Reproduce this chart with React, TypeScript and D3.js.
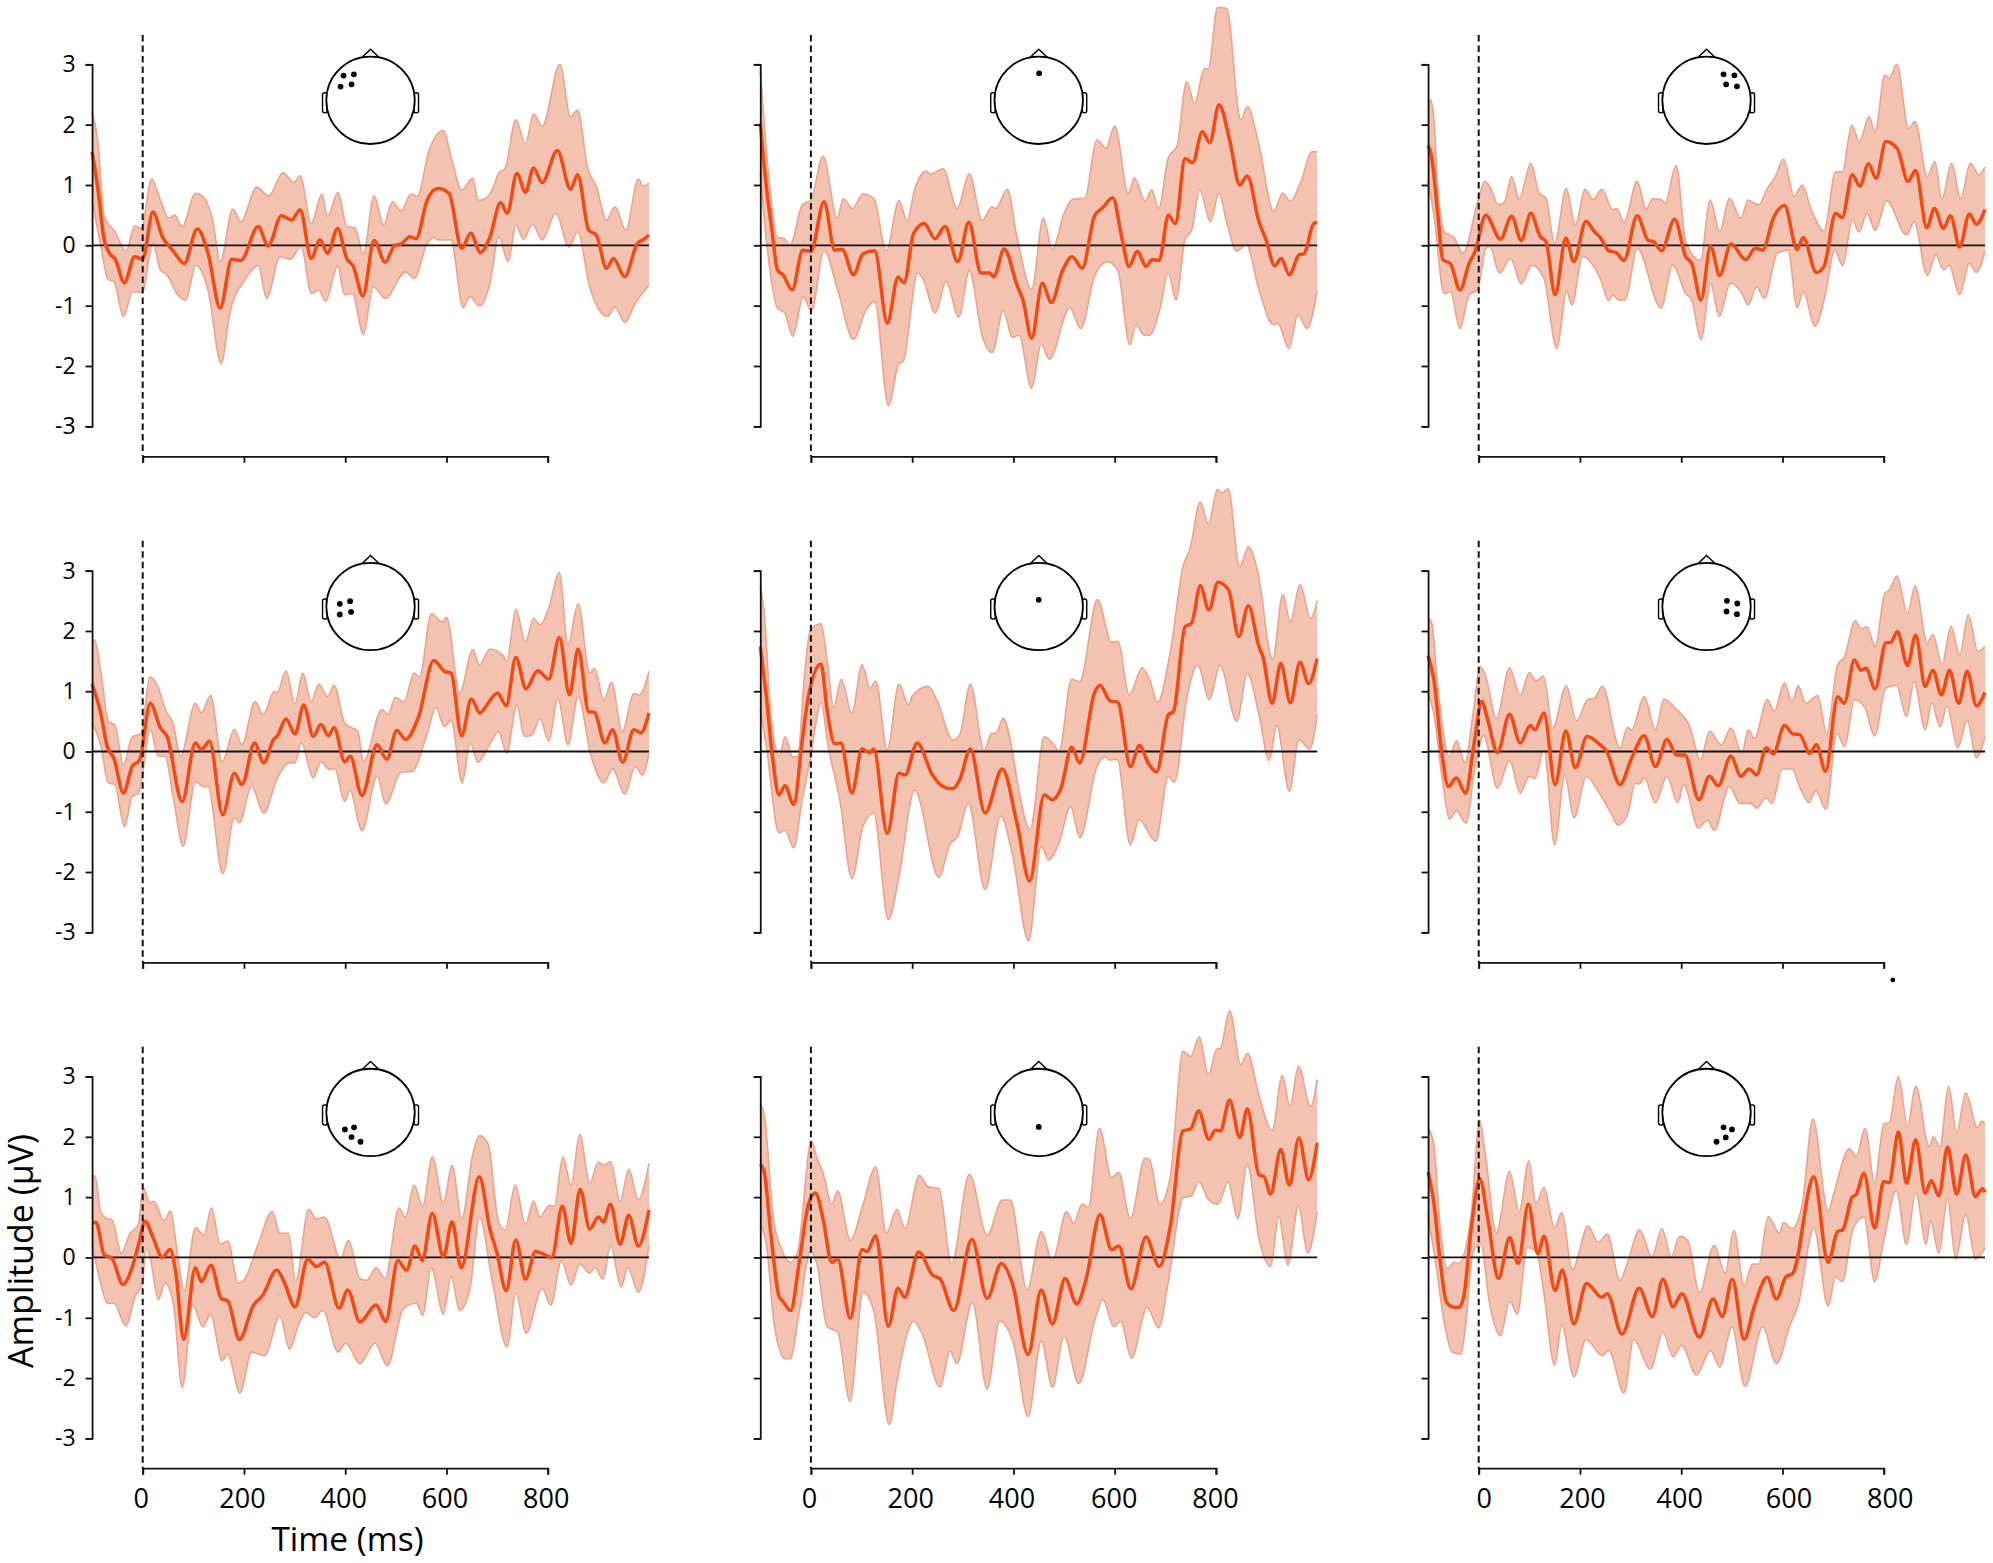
import { useEffect, useRef } from 'react';
import * as d3 from 'd3';

type Pt = [number, number];

const xTicks = [0, 200, 400, 600, 800];
const yTicks = [-3, -2, -1, 0, 1, 2, 3];

// top row
const p1Mean: Pt[] = [[-100,1.55],[-89,.97],[-76,.09],[-63,-.16],[-55,-.22],[-36,-.62],[-16,-.19],[0,-.23],[20,.55],[39,.14],[61,-.1],[82,-.3],[108,.27],[129,-.13],[153,-1.04],[176,-.23],[194,-.25],[228,.31],[248,-.01],[274,.49],[294,.42],[311,.59],[333,-.22],[350,.09],[365,-.13],[385,.28],[403,-.22],[416,-.35],[435,-.84],[457,.08],[479,-.28],[498,0],[510,.02],[528,.14],[540,.11],[562,.75],[583,.94],[605,.86],[630,-.05],[648,.2],[667,-.12],[686,.14],[707,.71],[720,.53],[739,1.19],[756,.88],[772,1.28],[789,1.04],[819,1.57],[845,.93],[859,1.17],[881,.25],[896,.17],[916,-.38],[930,-.22],[952,-.52],[977,.03],[990,.1],[1000,.17]];
const p1Upper: Pt[] = [[-100,2.22],[-89,1.75],[-76,.48],[-55,.23],[-33,-.1],[-16,.32],[-3,.28],[18,1.1],[35,.75],[52,.45],[63,.5],[78,.31],[104,.86],[116,.83],[138,.42],[153,-.27],[178,.6],[194,.39],[225,.96],[249,.82],[277,1.2],[299,1.04],[311,1.15],[333,.36],[354,.85],[365,.48],[386,.88],[403,.31],[419,.29],[436,-.14],[457,.82],[476,.34],[493,.72],[510,.57],[530,.85],[542,.81],[566,1.58],[594,1.9],[609,1.47],[630,.92],[652,1.11],[663,.75],[673,.76],[690,.92],[703,1.19],[716,1.28],[737,2.08],[756,1.68],[772,2.18],[789,1.97],[824,3],[845,2.13],[859,2.24],[879,1.28],[896,.97],[916,.42],[933,.64],[954,.25],[979,1.1],[989,.98],[1000,1.03]];
const p1Lower: Pt[] = [[-100,.75],[-85,.09],[-68,-.57],[-57,-.6],[-38,-1.18],[-20,-.77],[-1,-.78],[20,.03],[35,-.41],[48,-.49],[69,-.82],[85,-.91],[105,-.33],[129,-.74],[155,-1.96],[172,-1.13],[202,-.57],[228,-.34],[245,-.88],[271,-.19],[292,-.23],[313,-.02],[333,-.8],[348,-.74],[361,-.93],[385,-.35],[399,-.82],[414,-.8],[436,-1.48],[455,-.69],[479,-.88],[519,-.44],[536,-.55],[562,.03],[575,.13],[583,.09],[609,.09],[633,-1.04],[646,-.85],[665,-1.01],[686,-.63],[703,.14],[722,-.27],[737,.34],[752,.1],[770,.35],[789,.09],[816,.53],[842,-.03],[859,.22],[883,-.69],[918,-1.18],[933,-1.02],[952,-1.28],[973,-.96],[1000,-.66]];

const p2Mean: Pt[] = [[-100,2.02],[-88,.97],[-77,.25],[-66,-.41],[-55,-.49],[-37,-.74],[-16,-.08],[0,-.1],[26,.72],[47,-.08],[62,-.07],[84,-.49],[103,-.14],[126,-.09],[151,-1.29],[172,-.53],[184,-.62],[203,.2],[224,.36],[245,.11],[265,.31],[290,-.27],[312,.38],[336,-.46],[353,-.46],[361,-.52],[382,-.06],[407,-.66],[419,-.91],[436,-1.54],[457,-.63],[475,-.95],[496,-.44],[516,-.19],[536,-.38],[560,.48],[577,.63],[596,.79],[615,.09],[628,-.35],[645,-.1],[662,-.35],[674,-.24],[688,-.25],[706,.5],[720,.36],[739,1.44],[754,1.37],[773,1.88],[788,1.7],[806,2.33],[827,1.75],[847,1],[862,1.15],[885,.39],[899,.09],[916,-.34],[929,-.22],[945,-.49],[964,-.16],[974,-.14],[993,.36],[1000,.38]];
const p2Upper: Pt[] = [[-100,2.91],[-80,.86],[-66,.13],[-55,.12],[-41,.01],[-17,.67],[0,.75],[24,1.48],[52,.45],[64,.77],[82,.61],[103,.85],[124,.78],[149,-.09],[174,.74],[190,.41],[205,.93],[228,1.23],[236,1.18],[261,1.27],[289,.61],[313,1.19],[338,.41],[358,.64],[365,.61],[388,.93],[407,.14],[436,-.73],[459,.45],[477,-.07],[500,.53],[516,.76],[541,.78],[565,1.75],[583,1.61],[600,1.98],[627,.86],[639,1.12],[660,.73],[673,.92],[687,.61],[706,1.46],[723,1.64],[742,2.71],[758,2.35],[777,2.93],[785,2.92],[803,3.94],[821,3.93],[849,2.08],[862,2.3],[885,1.66],[914,.56],[932,.86],[947,.73],[968,1.06],[990,1.55],[1000,1.55]];
const p2Lower: Pt[] = [[-100,1.19],[-88,.09],[-66,-1.04],[-51,-1.13],[-36,-1.51],[-15,-.85],[1,-1.09],[26,-.09],[53,-.74],[84,-1.56],[109,-1.07],[126,-.93],[153,-2.66],[174,-1.96],[182,-1.93],[211,-.46],[222,-.57],[246,-1.12],[267,-.6],[292,-1.19],[313,-.42],[338,-1.49],[358,-1.78],[380,-1.08],[398,-1.53],[411,-1.49],[436,-2.37],[455,-1.64],[471,-1.89],[511,-1.04],[533,-1.38],[560,-.52],[585,-.27],[606,-.41],[630,-1.65],[642,-1.32],[659,-1.49],[669,-1.49],[689,-1.07],[706,-.46],[721,-.91],[739,.09],[752,.25],[768,.92],[789,.39],[806,.86],[822,.36],[841,-.1],[860,.01],[885,-.74],[914,-1.32],[922,-1.29],[944,-1.71],[962,-1.15],[980,-1.38],[1000,-.75]];

const p3Mean: Pt[] = [[-100,1.66],[-93,1.47],[-81,.53],[-71,-.24],[-56,-.3],[-37,-.74],[-19,-.3],[-7,-.1],[14,.5],[43,.1],[65,.48],[84,.08],[103,.53],[121,.15],[133,.06],[151,-.82],[172,.12],[188,-.27],[212,.4],[228,.23],[240,.13],[257,-.09],[271,-.12],[287,-.25],[313,.49],[335,.08],[345,.06],[361,-.09],[387,.43],[409,-.19],[421,-.3],[439,-.91],[458,-.02],[476,-.5],[498,.02],[528,-.24],[546,-.05],[561,-.08],[582,.45],[604,.66],[629,-.07],[641,.13],[667,-.45],[682,-.35],[705,.53],[718,.46],[738,1.17],[753,.98],[770,1.35],[785,1.11],[804,1.72],[827,1.6],[848,1.06],[863,1.24],[885,.29],[900,.61],[918,.28],[932,.49],[950,-.03],[969,.52],[983,.35],[1000,.59]];
const p3Upper: Pt[] = [[-100,2.24],[-95,2.41],[-89,2.13],[-81,.97],[-68,.23],[-48,.12],[-31,-.13],[-2,.72],[12,1.06],[22,.97],[39,.67],[51,.72],[65,1.14],[80,.77],[103,1.36],[119,.87],[133,.78],[150,.03],[173,.94],[191,.34],[210,.93],[226,.76],[243,.93],[265,.59],[273,.61],[287,.38],[313,1.06],[331,.6],[343,.77],[360,.76],[368,.7],[390,1.32],[409,.06],[438,-.25],[457,.75],[476,.23],[495,.78],[518,.45],[532,.75],[553,.67],[570,.94],[586,1.14],[602,1.43],[623,.81],[639,1],[656,.61],[682,.24],[705,1.22],[718,1.22],[737,1.99],[752,1.72],[771,2.13],[783,1.88],[802,2.82],[811,2.77],[826,3],[849,1.94],[862,2.05],[886,1.14],[901,1.39],[915,.77],[934,1.36],[952,.77],[971,1.36],[988,1.17],[1000,1.3]];
const p3Lower: Pt[] = [[-100,1.08],[-89,.53],[-68,-.8],[-56,-.77],[-37,-1.38],[-19,-.82],[-2,-.74],[14,-.05],[22,-.02],[41,-.46],[63,-.22],[84,-.64],[105,-.33],[129,-.55],[154,-1.71],[174,-.77],[184,-.99],[205,-.19],[240,-.55],[257,-.92],[265,-.82],[276,-.91],[290,-.9],[313,-.05],[360,-1.04],[383,-.33],[409,-.8],[421,-.91],[439,-1.57],[458,-.63],[475,-1.18],[497,-.63],[520,-.8],[532,-.99],[549,-.69],[564,-.88],[590,-.13],[611,-.08],[629,-1.04],[641,-.77],[664,-1.34],[685,-.8],[703,-.08],[719,-.34],[738,.42],[751,.22],[767,.53],[783,.25],[806,.74],[845,.17],[860,.39],[886,-.5],[903,-.16],[918,-.41],[929,-.33],[950,-.82],[969,-.3],[983,-.45],[1000,-.1]];

// middle row
const p4Mean: Pt[] = [[-100,1.12],[-83,.64],[-70,.08],[-57,-.11],[-38,-.69],[-21,-.25],[-6,-.14],[15,.8],[35,.39],[48,.25],[78,-.83],[104,.14],[116,.03],[132,.17],[158,-1.05],[181,-.36],[196,-.55],[221,.14],[239,-.19],[258,.19],[266,.26],[283,.54],[301,.29],[318,.77],[337,.25],[352,.45],[367,.26],[378,.4],[399,-.17],[410,-.08],[433,-.73],[463,.11],[482,-.13],[502,.35],[519,.2],[545,.58],[575,1.51],[596,1.33],[609,1.3],[630,.26],[649,.87],[666,.64],[682,.8],[701,.97],[718,.76],[737,1.56],[757,1.04],[780,1.34],[802,1.2],[823,1.89],[843,.94],[860,1.7],[881,.66],[892,.65],[913,.14],[928,.36],[948,-.18],[970,.36],[984,.31],[1000,.64]];
const p4Upper: Pt[] = [[-100,1.82],[-95,1.85],[-83,1.35],[-68,.5],[-55,.44],[-38,-.22],[-21,.24],[-3,.3],[14,1.24],[27,1.13],[48,.64],[59,.5],[75,-.07],[104,.8],[116,.64],[134,.93],[157,-.17],[181,.37],[196,.11],[222,.83],[238,.61],[260,1],[266,.98],[283,1.34],[301,.79],[316,1.3],[333,.83],[348,1.12],[365,.91],[378,1.1],[399,.47],[425,.33],[436,-.17],[472,.69],[485,.62],[499,.9],[516,.82],[536,1.3],[547,1.24],[570,2.29],[592,2.15],[600,2.23],[626,.97],[652,1.69],[665,1.44],[686,1.7],[712,1.59],[719,1.49],[737,2.36],[756,1.82],[772,2.21],[785,2.1],[802,2.38],[823,2.97],[840,1.77],[860,2.45],[883,1.3],[892,1.38],[911,.86],[926,1.15],[947,.33],[970,.96],[981,.94],[1000,1.33]];
const p4Lower: Pt[] = [[-100,.47],[-83,.11],[-68,-.52],[-55,-.55],[-36,-1.25],[-21,-.75],[-8,-.69],[15,.36],[31,-.08],[44,-.08],[61,-.8],[80,-1.57],[104,-.5],[121,-.59],[129,-.58],[158,-2.03],[181,-1.1],[191,-1.18],[215,-.58],[239,-1.02],[266,-.44],[290,-.19],[301,-.19],[313,.14],[337,-.44],[352,-.17],[369,-.3],[379,-.28],[399,-.83],[409,-.64],[433,-1.31],[463,-.41],[480,-.87],[510,-.35],[532,-.33],[562,.3],[579,.73],[596,.41],[609,.52],[631,-.52],[647,.14],[662,-.18],[682,.06],[703,.33],[719,-.03],[739,.77],[754,.25],[767,.26],[785,.54],[802,.17],[820,.88],[840,.11],[860,.91],[885,-.06],[911,-.52],[928,-.28],[952,-.71],[973,-.25],[987,-.39],[1000,-.03]];

const p5Mean: Pt[] = [[-100,1.74],[-88,.91],[-76,-.08],[-63,-.72],[-51,-.57],[-34,-.88],[-17,.19],[-5,.91],[20,1.45],[32,.69],[47,.13],[59,.14],[81,-.69],[101,.04],[116,-.02],[124,.04],[151,-1.36],[174,-.36],[186,-.39],[210,.14],[240,-.39],[261,-.58],[280,-.62],[294,-.47],[315,.04],[344,-1.02],[378,-.29],[407,-1.19],[432,-2.15],[461,-.72],[477,-.8],[494,-.61],[515,.07],[531,-.19],[560,.97],[571,1.1],[591,.84],[606,.82],[631,-.25],[649,.1],[666,-.19],[683,-.34],[706,.61],[716,.66],[739,2.07],[752,2.13],[769,2.75],[786,2.35],[804,2.81],[825,2.68],[845,1.91],[864,2.42],[885,1.74],[893,1.57],[911,.8],[928,1.46],[947,.81],[966,1.48],[983,1.13],[1000,1.54]];
const p5Upper: Pt[] = [[-100,2.73],[-92,2.29],[-80,.69],[-62,-.07],[-51,.25],[-36,-.09],[-26,-.08],[-13,1.24],[-1,2.02],[20,2.12],[32,1.52],[45,.73],[60,1.2],[81,.64],[101,1.44],[117,1.05],[128,1.17],[151,.03],[174,1.12],[193,.77],[200,.92],[232,1.08],[250,.83],[280,.19],[294,.28],[315,1.12],[342,.02],[357,.3],[365,.3],[380,.55],[398,0],[407,-.47],[433,-1.29],[461,.25],[480,.11],[490,0],[515,1.2],[531,1.16],[566,2.52],[594,1.81],[606,1.83],[629,.94],[654,1.39],[669,1.19],[685,.82],[710,1.66],[735,3.07],[749,3.37],[769,4.14],[785,3.78],[803,4.35],[812,4.29],[824,4.36],[847,3.06],[864,3.4],[882,3.01],[912,1.53],[932,2.61],[947,2.15],[966,2.77],[987,2.21],[1000,2.5]];
const p5Lower: Pt[] = [[-100,.69],[-88,.08],[-63,-1.35],[-51,-1.3],[-34,-1.6],[-17,-.8],[-1,-.11],[20,.8],[34,.08],[57,-.8],[81,-2.11],[103,-1.24],[124,-1.02],[153,-2.79],[174,-2.07],[205,-.64],[253,-2.09],[274,-1.55],[290,-1.41],[311,-.86],[344,-2.29],[375,-1.07],[398,-1.71],[430,-3.14],[455,-1.57],[469,-1.8],[490,-1.52],[513,-.91],[531,-1.43],[565,-.25],[581,-.09],[590,-.14],[605,-.13],[631,-1.55],[648,-1.13],[681,-1.49],[706,-.41],[718,-.51],[743,.91],[764,1.43],[787,.86],[808,1.43],[841,.5],[862,1.3],[885,.61],[905,-.15],[920,.43],[945,-.66],[964,.19],[985,.04],[1000,.61]];

const p6Mean: Pt[] = [[-100,1.59],[-89,1.22],[-72,-.08],[-60,-.58],[-44,-.44],[-26,-.69],[-9,.14],[6,.83],[18,.52],[37,-.02],[61,.62],[82,.14],[102,.43],[111,.36],[129,.64],[151,-.55],[172,.34],[191,-.27],[214,.25],[240,.11],[253,0],[279,-.55],[302,-.11],[327,.26],[349,-.25],[372,.2],[391,-.06],[407,-.06],[435,-.8],[456,-.41],[473,-.57],[498,-.08],[518,-.41],[534,-.29],[549,-.39],[568,.06],[582,-.04],[604,.43],[621,.29],[634,.28],[654,-.03],[667,.11],[685,-.33],[709,.91],[722,.8],[742,1.52],[755,1.35],[765,1.38],[783,1.04],[804,1.8],[814,1.81],[827,1.99],[847,1.43],[863,1.93],[882,1.08],[897,1.35],[914,.94],[930,1.35],[948,.8],[965,1.33],[983,.76],[1000,.98]];
const p6Upper: Pt[] = [[-100,2.21],[-93,2.15],[-81,1.08],[-58,-.09],[-44,.18],[-27,-.19],[-11,.64],[3,1.41],[14,1.24],[35,.55],[61,1.39],[82,.93],[100,1.31],[113,1.17],[128,1.25],[146,.39],[173,1.09],[193,.51],[216,.87],[228,.88],[244,1.08],[279,.06],[294,.4],[302,.36],[327,.91],[349,.36],[366,.87],[388,.72],[417,.41],[438,-.14],[456,.34],[479,.11],[498,.39],[520,-.03],[532,.36],[545,.22],[570,.86],[584,.67],[604,1.14],[619,.83],[631,1.09],[646,.8],[670,.93],[687,.3],[709,1.44],[722,1.57],[744,2.17],[755,2.04],[767,2.07],[783,1.74],[802,2.62],[812,2.69],[826,2.91],[847,2.29],[862,2.75],[886,1.8],[897,1.94],[915,1.45],[933,2.08],[950,1.6],[967,2.27],[986,1.66],[1000,1.74]];
const p6Lower: Pt[] = [[-100,.97],[-89,.64],[-71,-.52],[-58,-1.12],[-44,-.99],[-25,-1.19],[-9,-.36],[10,.26],[37,-.61],[61,-.15],[82,-.69],[100,-.41],[111,-.45],[129,.03],[150,-1.55],[170,-.39],[188,-1.1],[213,-.41],[236,-.66],[261,-1.02],[275,-1.22],[294,-1.05],[309,-.52],[317,-.54],[327,-.44],[349,-.85],[372,-.41],[393,-.85],[405,-.55],[434,-1.27],[452,-1.14],[465,-1.31],[495,-.58],[516,-.86],[537,-.86],[549,-.94],[567,-.77],[579,-.86],[600,-.29],[619,-.29],[633,-.57],[652,-.85],[666,-.66],[686,-.96],[707,.3],[723,.08],[742,.86],[763,.72],[782,.26],[804,1.05],[825,1.1],[845,.58],[860,1.16],[882,.36],[895,.8],[911,.41],[925,.75],[946,.06],[965,.52],[983,-.11],[1000,.25]];

// bottom row
const p7Mean: Pt[] = [[-100,.58],[-92,.58],[-76,.04],[-61,-.01],[-39,-.45],[-21,-.17],[-8,.22],[5,.6],[20,.34],[39,0],[54,.13],[65,-.23],[81,-1.36],[104,-.17],[116,-.4],[135,-.13],[155,-.68],[168,-.72],[191,-1.36],[219,-.79],[236,-.64],[265,-.21],[279,-.4],[301,-.82],[326,-.03],[343,-.15],[359,-.08],[388,-.84],[405,-.54],[429,-1.07],[461,-.79],[480,-1.06],[504,-.05],[521,-.21],[538,.19],[552,-.05],[572,.73],[594,.01],[611,.59],[629,-.17],[665,1.34],[686,.46],[699,.1],[718,-.55],[737,.29],[756,-.36],[776,.1],[793,.05],[808,0],[829,.85],[846,.23],[864,1.13],[883,.47],[900,.67],[910,.59],[924,.88],[943,.22],[960,.7],[979,.19],[1000,.79]];
const p7Upper: Pt[] = [[-100,1.35],[-94,1.35],[-83,.76],[-70,.64],[-61,.63],[-42,.07],[-25,.4],[-9,.53],[1,1.16],[14,.9],[22,.93],[42,.61],[55,.77],[69,.04],[82,-.55],[104,.49],[121,.37],[136,.82],[153,.22],[168,.27],[189,-.43],[202,-.35],[228,.22],[256,.76],[271,.4],[288,.4],[302,-.39],[328,.8],[343,.64],[359,.67],[391,-.02],[406,.28],[429,-.35],[442,-.38],[461,-.17],[479,-.35],[506,.82],[519,.67],[536,1.2],[553,.85],[572,1.67],[594,.9],[611,1.53],[630,.64],[652,1.71],[665,2.02],[682,1.89],[703,.58],[716,.46],[736,1.2],[756,.55],[772,.93],[785,.67],[802,.86],[813,.85],[830,1.67],[846,1.2],[863,2.04],[883,1.23],[900,1.58],[910,1.53],[924,1.59],[943,.93],[960,1.46],[979,.96],[1000,1.56]];
const p7Lower: Pt[] = [[-100,.22],[-83,-.43],[-70,-.76],[-57,-.76],[-33,-1.14],[-16,-.67],[-1,-.43],[7,.15],[15,-.02],[31,-.7],[44,-.43],[61,-.79],[78,-2.16],[99,-.79],[119,-1.15],[134,-.94],[157,-1.71],[168,-1.6],[192,-2.25],[215,-1.57],[241,-1.63],[271,-.97],[290,-1.52],[309,-1.09],[322,-.91],[339,-1],[356,-.88],[386,-1.57],[401,-1.42],[429,-1.76],[459,-1.42],[483,-1.8],[515,-.85],[540,-.76],[553,-.96],[570,-.17],[594,-.94],[609,-.32],[626,-.88],[647,-.49],[665,.67],[690,-.37],[720,-1.49],[737,-.58],[757,-1.26],[789,-.52],[806,-.79],[827,-.05],[846,-.46],[863,-.11],[883,-.26],[893,-.17],[909,-.36],[924,.19],[945,-.49],[958,-.17],[979,-.58],[1000,.19]];

const p8Mean: Pt[] = [[-100,1.55],[-92,1.41],[-80,.46],[-63,-.64],[-55,-.73],[-40,-.88],[-22,-.02],[-5,.88],[9,1.07],[24,.64],[41,-.08],[53,-.03],[78,-1.01],[101,.13],[111,.1],[128,.36],[153,-1.14],[172,-.51],[185,-.66],[213,.09],[240,-.29],[255,-.35],[282,-.88],[318,.3],[348,-.68],[376,-.1],[398,-.43],[429,-1.61],[455,-.54],[477,-1.1],[502,-.35],[525,-.77],[544,-.35],[571,.71],[594,.13],[608,.19],[632,-.52],[662,.34],[688,-.15],[710,.52],[735,2.1],[750,2.13],[766,2.43],[786,1.96],[799,2.11],[809,2.1],[827,2.61],[847,1.99],[862,2.46],[885,1.37],[895,1.34],[908,1.05],[928,1.79],[945,1.2],[964,1.98],[983,1.29],[1000,1.9]];
const p8Upper: Pt[] = [[-100,2.55],[-92,2.36],[-74,.64],[-59,.16],[-40,-.08],[-26,.1],[1,1.93],[12,1.65],[24,1.41],[41,.88],[53,1.1],[78,.28],[103,.88],[128,1.5],[149,.4],[170,.8],[186,.48],[214,1.36],[232,1.17],[253,1.14],[278,-.11],[313,1.38],[348,.37],[378,.95],[394,.95],[427,-.54],[455,.43],[477,-.05],[505,.76],[519,.57],[536,.89],[548,.83],[570,2.14],[594,1.32],[608,1.41],[631,.64],[660,1.65],[669,1.62],[689,.88],[710,1.35],[735,3.42],[750,3.33],[767,3.66],[785,3.02],[802,3.46],[808,3.46],[827,4.09],[849,3.2],[862,3.39],[885,2.69],[911,2.1],[931,3.02],[946,2.51],[963,3.17],[987,2.5],[1000,2.95]];
const p8Lower: Pt[] = [[-100,.55],[-88,.22],[-72,-1.15],[-51,-1.68],[-41,-1.68],[-22,-.85],[-1,.1],[12,-.11],[32,-1.15],[53,-1.24],[77,-2.39],[103,-.58],[124,-.88],[155,-2.77],[170,-2.04],[203,-1.06],[220,-1.27],[255,-2.15],[275,-1.55],[288,-1.76],[319,-.74],[348,-2.19],[373,-1.06],[402,-1.48],[429,-2.64],[455,-1.39],[477,-2.15],[500,-1.3],[529,-2.09],[561,-1.03],[577,-.7],[598,-1.15],[612,-1.06],[633,-1.67],[664,-.83],[687,-1.17],[706,-.4],[735,.99],[752,1.02],[766,1.26],[785,.96],[804,.88],[824,1.25],[843,.64],[862,1.54],[885,.31],[908,-.15],[924,.67],[942,-.13],[963,.86],[981,.07],[1000,.76]];

const p9Mean: Pt[] = [[-100,1.42],[-89,.93],[-77,.01],[-64,-.73],[-52,-.82],[-40,-.83],[-30,-.67],[-15,.46],[2,1.31],[18,.64],[39,-.35],[61,.33],[78,-.1],[98,.88],[117,.06],[129,.35],[151,-.55],[165,-.21],[188,-1.1],[213,-.43],[243,-.66],[254,-.6],[283,-1.27],[317,-.51],[343,-.98],[364,-.36],[384,-.82],[401,-.6],[436,-1.32],[463,-.69],[481,-.98],[501,-.36],[524,-1.36],[545,-.79],[570,-.33],[588,-.69],[607,-.32],[620,-.27],[662,1.34],[690,-.08],[709,.43],[719,.46],[737,.99],[746,1.05],[761,1.39],[782,.49],[800,1.26],[811,1.24],[829,2.08],[845,1.23],[863,1.95],[882,1.07],[894,1.27],[909,1.02],[926,1.83],[944,1.05],[962,1.7],[981,1.01],[995,1.14],[1000,1.08]];
const p9Upper: Pt[] = [[-100,2.15],[-89,1.89],[-77,.58],[-62,-.18],[-48,-.08],[-40,-.1],[-15,.7],[2,2.27],[14,1.65],[35,.41],[61,1.43],[80,.76],[99,1.6],[113,.9],[129,1.16],[150,.49],[164,.74],[185,-.2],[216,.52],[236,.25],[254,.39],[279,-.38],[294,-.08],[318,.46],[342,.01],[362,.48],[380,.01],[397,.35],[413,.28],[436,-.58],[465,.2],[487,-.26],[504,.45],[524,-.46],[541,-.11],[553,-.11],[572,.68],[594,.4],[602,.58],[619,.48],[639,.88],[660,2.3],[690,.76],[701,1.05],[732,1.8],[746,1.68],[763,2.14],[782,1.24],[800,2.21],[811,2.24],[829,3],[847,2.18],[863,2.84],[890,1.84],[898,2],[911,1.83],[928,2.84],[944,2.07],[962,2.73],[985,2.15],[993,2.26],[1000,2.21]];
const p9Lower: Pt[] = [[-100,.67],[-85,-.08],[-68,-1.09],[-52,-1.57],[-35,-1.6],[-27,-1.21],[-11,.1],[4,.22],[22,-.79],[43,-1.3],[61,-.72],[76,-.94],[96,.16],[114,.1],[128,-.55],[150,-1.79],[164,-1.12],[188,-1.98],[212,-1.36],[244,-1.63],[257,-1.54],[287,-2.25],[306,-1.36],[339,-1.85],[364,-1.24],[384,-1.65],[401,-1.46],[430,-1.95],[458,-1.54],[476,-1.82],[500,-1.15],[526,-2.14],[561,-1.15],[588,-1.76],[615,-1.12],[631,-.79],[662,.49],[690,-.81],[705,-.32],[718,-.4],[740,.49],[761,.67],[782,-.4],[800,.28],[825,1.11],[845,.21],[863,1.08],[884,.22],[892,.61],[909,.07],[926,.98],[942,-.03],[962,.71],[981,-.03],[1000,.16]];

const means = [p1Mean, p2Mean, p3Mean, p4Mean, p5Mean, p6Mean, p7Mean, p8Mean, p9Mean];
const uppers = [p1Upper, p2Upper, p3Upper, p4Upper, p5Upper, p6Upper, p7Upper, p8Upper, p9Upper];
const lowers = [p1Lower, p2Lower, p3Lower, p4Lower, p5Lower, p6Lower, p7Lower, p8Lower, p9Lower];

// electrode groups on the head sketch, offsets from its centre
const sensors: Pt[][] = [
  [[-27,-24.7],[-16.7,-26],[-30,-13.7],[-19,-16]],
  [[0.4,-27]],
  [[17,-26],[27.9,-25],[19.6,-16],[30.4,-14]],
  [[-30.8,-2.7],[-20.4,-5.3],[-30.8,8],[-19.5,5.3]],
  [[0,-6.7]],
  [[20.4,-5.7],[30.8,-3],[20,5],[30.4,7.7]],
  [[-25.6,17],[-16.5,14.9],[-19,24.6],[-10,29.3]],
  [[0,14.5]],
  [[17,14.9],[25.4,17],[19.2,25],[10,29.3]],
];

// layout
const colX = [142.7, 810.9, 1478.7];
const pxPerMs = 0.5063;
const rowY3 = [64.3, 570.7, 1076.5];
const rowYm3 = [426.3, 932.3, 1438.4];
const rowAxis = [456.3, 962.3, 1468.2];
const rowDash = [35, 540.7, 1046.7];
const xLabelShift = [[-2, -2, -2, -2, -2], [-2, -2, -2, -1, -1], [5, 2, -2, 6, 6]];

export default function App() {
  const svgRef = useRef<SVGSVGElement>(null);

  useEffect(() => {
    if (!svgRef.current) return;
    const svg = d3.select(svgRef.current);
    svg.selectAll('*').remove();

    means.forEach((mean, i) => {
      const row = Math.floor(i / 3);
      const col = i % 3;
      const x = d3.scaleLinear().domain([-100, 1000]).range([colX[col] - 100 * pxPerMs, colX[col] + 1000 * pxPerMs]);
      const xAxisScale = d3.scaleLinear().domain([0, 800]).range([x(0), x(800)]);
      const y = d3.scaleLinear().domain([-3, 3]).range([rowYm3[row], rowY3[row]]);
      const line = d3.line<Pt>().x(d => x(d[0])).y(d => y(d[1])).curve(d3.curveMonotoneX);
      const g = svg.append('g');

      const upperPath = line(uppers[i]) as string;
      const lowerBack = line(lowers[i].slice().reverse()) as string;
      g.append('path').attr('d', upperPath + 'L' + lowerBack.slice(1) + 'Z').attr('fill', '#f3c2b0');
      g.append('path').attr('d', upperPath).attr('fill', 'none').attr('stroke', '#eaa58f').attr('stroke-width', 1.6);
      g.append('path').attr('d', line(lowers[i])).attr('fill', 'none').attr('stroke', '#eaa58f').attr('stroke-width', 1.6);

      g.append('line').attr('x1', x(-100)).attr('x2', x(1000)).attr('y1', y(0)).attr('y2', y(0))
        .attr('stroke', '#111').attr('stroke-width', 1.8);
      g.append('path').attr('d', line(mean)).attr('fill', 'none').attr('stroke', '#f24a14').attr('stroke-width', 3.5);
      g.append('line').attr('x1', x(0)).attr('x2', x(0)).attr('y1', rowDash[row]).attr('y2', rowAxis[row])
        .attr('stroke', '#111').attr('stroke-width', 2).attr('stroke-dasharray', '6.5,4');

      const yAxis = g.append('g').attr('transform', 'translate(' + x(-100) + ',0)')
        .call(d3.axisLeft(y).tickValues(yTicks).tickSizeOuter(0).tickSize(6.5).tickPadding(10)
          .tickFormat(d => (col === 0 ? String(d) : '')));
      yAxis.selectAll('text').attr('font-size', 23);

      const xAxis = g.append('g').attr('transform', 'translate(0,' + rowAxis[row] + ')')
        .call(d3.axisBottom(xAxisScale).tickValues(xTicks).tickSizeOuter(0).tickSize(6.5).tickPadding(14)
          .tickFormat(d => (row === 2 ? String(d) : '')));
      xAxis.selectAll('text').attr('font-size', 27).attr('dx', (_d, k) => xLabelShift[col][k]);

      [yAxis, xAxis].forEach(a => {
        a.attr('font-family', '"Open Sans", sans-serif');
        a.selectAll('text').attr('fill', '#000');
        a.selectAll('path, line').attr('stroke', '#111').attr('stroke-width', 1.8);
      });

      // head sketch
      const cx = x(450);
      const cy = y(0) - 145;
      const head = g.append('g').attr('transform', 'translate(' + cx + ',' + cy + ')')
        .attr('fill', 'none').attr('stroke', '#000').attr('stroke-width', 1.8);
      head.append('path').attr('d', 'M-9.5,-42L0,-51L9.5,-42Z').attr('fill', '#fff').attr('stroke-width', 1.5);
      head.selectAll('rect').data([-48, 43.4]).join('rect')
        .attr('x', d => d).attr('y', -7.5).attr('width', 4.6).attr('height', 20).attr('rx', 2).attr('stroke-width', 1.4);
      head.append('ellipse').attr('rx', 44.2).attr('ry', 43.7).attr('fill', '#fff');
      head.selectAll('circle').data(sensors[i]).join('circle')
        .attr('cx', d => d[0]).attr('cy', d => d[1]).attr('r', 2.9).attr('fill', '#000').attr('stroke', 'none');

      // stray dot below the right-hand middle panel
      if (i === 5) {
        g.append('circle').attr('cx', x(818)).attr('cy', y(-3.79)).attr('r', 2.4).attr('fill', '#000');
      }
    });

    svg.append('text').text('Time (ms)').attr('x', 347.5).attr('y', 1551).attr('text-anchor', 'middle')
      .attr('font-family', '"Open Sans", sans-serif').attr('font-size', 33.5).attr('fill', '#000');
    svg.append('text').text('Amplitude (µV)').attr('transform', 'translate(32.5,1251) rotate(-90)').attr('text-anchor', 'middle')
      .attr('font-family', '"Open Sans", sans-serif').attr('font-size', 34).attr('fill', '#000');
  }, []);

  return <svg ref={svgRef} width={1993} height={1563} style={{ position: 'absolute', left: 0, top: 0, background: '#fff' }} />;
}
